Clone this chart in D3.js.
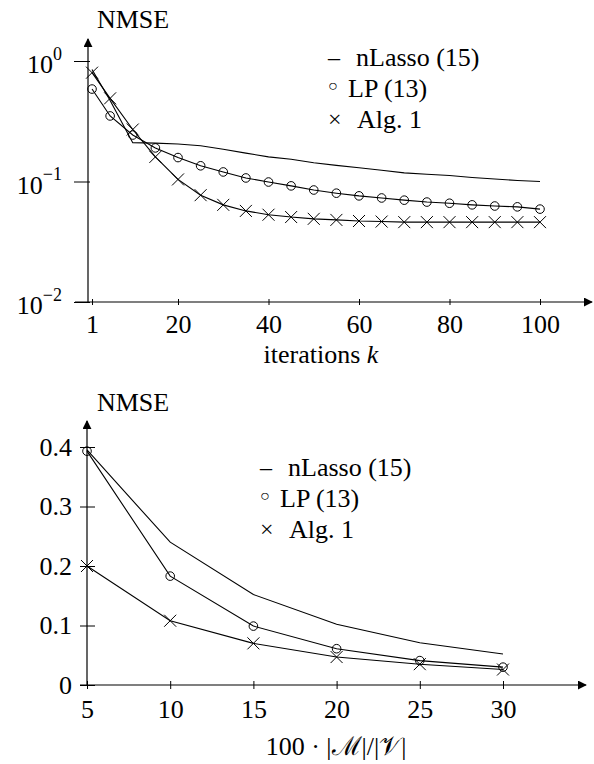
<html>
<head>
<script src="https://cdn.jsdelivr.net/npm/d3@7"></script>
<style>
    body { margin: 0; background: white; }
    svg { display: block; }
</style>
</head>
<body>
<svg id="chart"></svg>
<script>
    // top chart: NMSE vs iterations
    let iterK = [1, 5, 10, 15, 20, 25, 30, 35, 40, 45, 50, 55, 60, 65, 70, 75, 80, 85, 90, 95, 100];
    let topNLasso = [0.85, 0.47, 0.21, 0.208, 0.205, 0.198, 0.185, 0.172, 0.16, 0.153, 0.143, 0.136,
                     0.13, 0.124, 0.118, 0.115, 0.112, 0.108, 0.105, 0.102, 0.10];
    let topLP = [0.585, 0.35, 0.243, 0.19, 0.158, 0.135, 0.12, 0.107, 0.099, 0.092, 0.085, 0.08,
                 0.076, 0.073, 0.07, 0.0675, 0.066, 0.064, 0.0626, 0.0616, 0.059];
    let topAlg = [0.80, 0.49, 0.27, 0.16, 0.104, 0.077, 0.064, 0.057, 0.053, 0.0507, 0.049, 0.048,
                  0.047, 0.0465, 0.046, 0.046, 0.046, 0.046, 0.046, 0.046, 0.046];
    let topXTicks = [1, 20, 40, 60, 80, 100];
    let topYTicks = [1, 0.1, 0.01];
    let topYExp = ["0", "\u22121", "\u22122"];

    // bottom chart: NMSE vs sampling ratio
    let ratio = [5, 10, 15, 20, 25, 30];
    let botNLasso = [0.395, 0.24, 0.152, 0.102, 0.071, 0.052];
    let botLP = [0.393, 0.183, 0.099, 0.061, 0.041, 0.03];
    let botAlg = [0.2, 0.108, 0.07, 0.047, 0.035, 0.026];
    let botXTicks = [5, 10, 15, 20, 25, 30];
    let botYTicks = [0, 0.1, 0.2, 0.3, 0.4];

    let legendNames = ["nLasso (15)", "LP (13)", "Alg. 1"];

    let serif = '"Liberation Serif", "Times New Roman", serif';
    let svg = d3.select("#chart").attr("width", 594).attr("height", 764);

    svg.append("defs").append("marker")
        .attr("id", "arrow")
        .attr("viewBox", "0 0 10 10")
        .attr("refX", 9).attr("refY", 5)
        .attr("markerWidth", 9).attr("markerHeight", 9)
        .attr("markerUnits", "userSpaceOnUse")
        .attr("orient", "auto")
        .append("path")
        .attr("d", "M0,0 L10,5 L0,10 Z")
        .attr("fill", "black");

    function drawCircles(g, pts, r) {
        g.selectAll(".c").data(pts).enter().append("circle")
            .attr("cx", d => d[0]).attr("cy", d => d[1])
            .attr("r", r)
            .attr("fill", "none")
            .attr("stroke", "black").attr("stroke-width", 1);
    }

    function drawCrosses(g, pts, s) {
        g.selectAll(".x").data(pts).enter().append("path")
            .attr("d", d => `M${d[0]-s},${d[1]-s}L${d[0]+s},${d[1]+s}M${d[0]-s},${d[1]+s}L${d[0]+s},${d[1]-s}`)
            .attr("stroke", "black").attr("stroke-width", 1).attr("fill", "none");
    }

    function drawLine(g, pts) {
        g.append("path")
            .attr("d", d3.line()(pts))
            .attr("fill", "none")
            .attr("stroke", "black")
            .attr("stroke-width", 1.1);
    }

    function drawLegend(x, y) {
        let g = svg.append("g");
        let marks = ["\u2013", "\u25CB", "\u00D7"];
        let offs = [28, 20, 29];
        legendNames.forEach((name, i) => {
            let yy = y + i * 31;
            g.append("text").attr("x", x).attr("y", yy)
                .attr("font-size", i == 1 ? 16 : 24).attr("dy", i == 1 ? "0.2em" : "0.33em")
                .text(marks[i]);
            g.append("text").attr("x", x + offs[i]).attr("y", yy).attr("dy", "0.33em")
                .attr("font-size", 26).text(name);
        });
    }

    // ---------- top chart ----------
    let xTop = d3.scaleLinear().domain([0, 100]).range([87.5, 540]);
    let yTop = d3.scaleLog().domain([0.01, 1]).range([302, 61]);

    let gTop = svg.append("g");

    let xAxisTop = d3.axisBottom(xTop).tickValues(topXTicks).tickSize(0).tickPadding(10);
    let gxt = gTop.append("g").attr("transform", "translate(0,302)").call(xAxisTop);
    gxt.select(".domain").remove();
    gxt.selectAll(".tick line").attr("y1", -3).attr("y2", 3).attr("stroke", "black");
    gxt.selectAll(".tick text").attr("font-size", 26).attr("dy", "0.8em");
    gTop.append("line").attr("x1", 75).attr("x2", 592).attr("y1", 302).attr("y2", 302)
        .attr("stroke", "black").attr("stroke-width", 1.2).attr("marker-end", "url(#arrow)");

    let yAxisTop = d3.axisLeft(yTop).tickValues(topYTicks).tickSize(0).tickFormat(() => "");
    let gyt = gTop.append("g").attr("transform", "translate(88,0)").call(yAxisTop);
    gyt.select(".domain").remove();
    gyt.selectAll(".tick line").attr("x1", -14).attr("x2", 2).attr("stroke", "black");
    gyt.selectAll(".tick").each(function(d, i) {
        let t = d3.select(this).append("text")
            .attr("x", -26).attr("y", 0).attr("dy", "0.45em")
            .attr("text-anchor", "end").attr("font-size", 26);
        t.append("tspan").text("10");
        t.append("tspan").attr("font-size", 18).attr("dy", "-0.75em").text(topYExp[i]);
    });
    gTop.append("line").attr("x1", 88).attr("x2", 88).attr("y1", 302).attr("y2", 39)
        .attr("stroke", "black").attr("stroke-width", 1.2).attr("marker-end", "url(#arrow)");

    let ptsTopN = iterK.map((k, i) => [xTop(k), yTop(topNLasso[i])]);
    let ptsTopL = iterK.map((k, i) => [xTop(k), yTop(topLP[i])]);
    let ptsTopA = iterK.map((k, i) => [xTop(k), yTop(topAlg[i])]);
    drawLine(gTop, ptsTopN);
    drawLine(gTop, ptsTopL);
    drawLine(gTop, ptsTopA);
    drawCircles(gTop.append("g"), ptsTopL, 4.3);
    drawCrosses(gTop.append("g"), ptsTopA, 6);

    gTop.append("text").attr("x", 133).attr("y", 19).attr("dy", "0.35em")
        .attr("text-anchor", "middle").attr("font-size", 26).text("NMSE");
    let xl = gTop.append("text").attr("x", 321).attr("y", 354).attr("dy", "0.35em")
        .attr("text-anchor", "middle").attr("font-size", 26);
    xl.append("tspan").text("iterations ");
    xl.append("tspan").attr("font-style", "italic").text("k");

    drawLegend(328, 57);

    // ---------- bottom chart ----------
    let xBot = d3.scaleLinear().domain([5, 30]).range([87, 503]);
    let yBot = d3.scaleLinear().domain([0, 0.4]).range([685, 447]);

    let gBot = svg.append("g");

    let xAxisBot = d3.axisBottom(xBot).tickValues(botXTicks).tickSize(0).tickPadding(12);
    let gxb = gBot.append("g").attr("transform", "translate(0,685)").call(xAxisBot);
    gxb.select(".domain").remove();
    gxb.selectAll(".tick line").attr("y1", -4).attr("y2", 4).attr("stroke", "black");
    gxb.selectAll(".tick text").attr("font-size", 26).attr("dy", "0.8em");
    gBot.append("line").attr("x1", 80).attr("x2", 586).attr("y1", 685).attr("y2", 685)
        .attr("stroke", "black").attr("stroke-width", 1.2).attr("marker-end", "url(#arrow)");

    let yAxisBot = d3.axisLeft(yBot).tickValues(botYTicks).tickSize(0).tickPadding(15)
        .tickFormat(d => d == 0 ? "0" : d3.format(".1f")(d));
    let gyb = gBot.append("g").attr("transform", "translate(87,0)").call(yAxisBot);
    gyb.select(".domain").remove();
    gyb.selectAll(".tick line").attr("x1", -7).attr("x2", 8).attr("stroke", "black");
    gyb.selectAll(".tick text").attr("font-size", 26);
    gBot.append("line").attr("x1", 87).attr("x2", 87).attr("y1", 685).attr("y2", 421)
        .attr("stroke", "black").attr("stroke-width", 1.2).attr("marker-end", "url(#arrow)");

    let ptsBotN = ratio.map((r, i) => [xBot(r), yBot(botNLasso[i])]);
    let ptsBotL = ratio.map((r, i) => [xBot(r), yBot(botLP[i])]);
    let ptsBotA = ratio.map((r, i) => [xBot(r), yBot(botAlg[i])]);
    drawLine(gBot, ptsBotN);
    drawLine(gBot, ptsBotL);
    drawLine(gBot, ptsBotA);
    drawCircles(gBot.append("g"), ptsBotL, 4.3);
    drawCrosses(gBot.append("g"), ptsBotA, 6);

    gBot.append("text").attr("x", 133).attr("y", 402).attr("dy", "0.35em")
        .attr("text-anchor", "middle").attr("font-size", 26).text("NMSE");
    let bl = gBot.append("text").attr("x", 336).attr("y", 746).attr("dy", "0.35em")
        .attr("text-anchor", "middle").attr("font-size", 26);
    bl.append("tspan").text("100 \u00B7 |");
    bl.append("tspan").text("\u2133");
    bl.append("tspan").text("|/|");
    bl.append("tspan").text("\uD835\uDCB1");
    bl.append("tspan").text("|");

    drawLegend(260, 467);

    // one serif face for every label
    svg.selectAll("text").style("font-family", serif).style("fill", "black");
</script>
</body>
</html>
